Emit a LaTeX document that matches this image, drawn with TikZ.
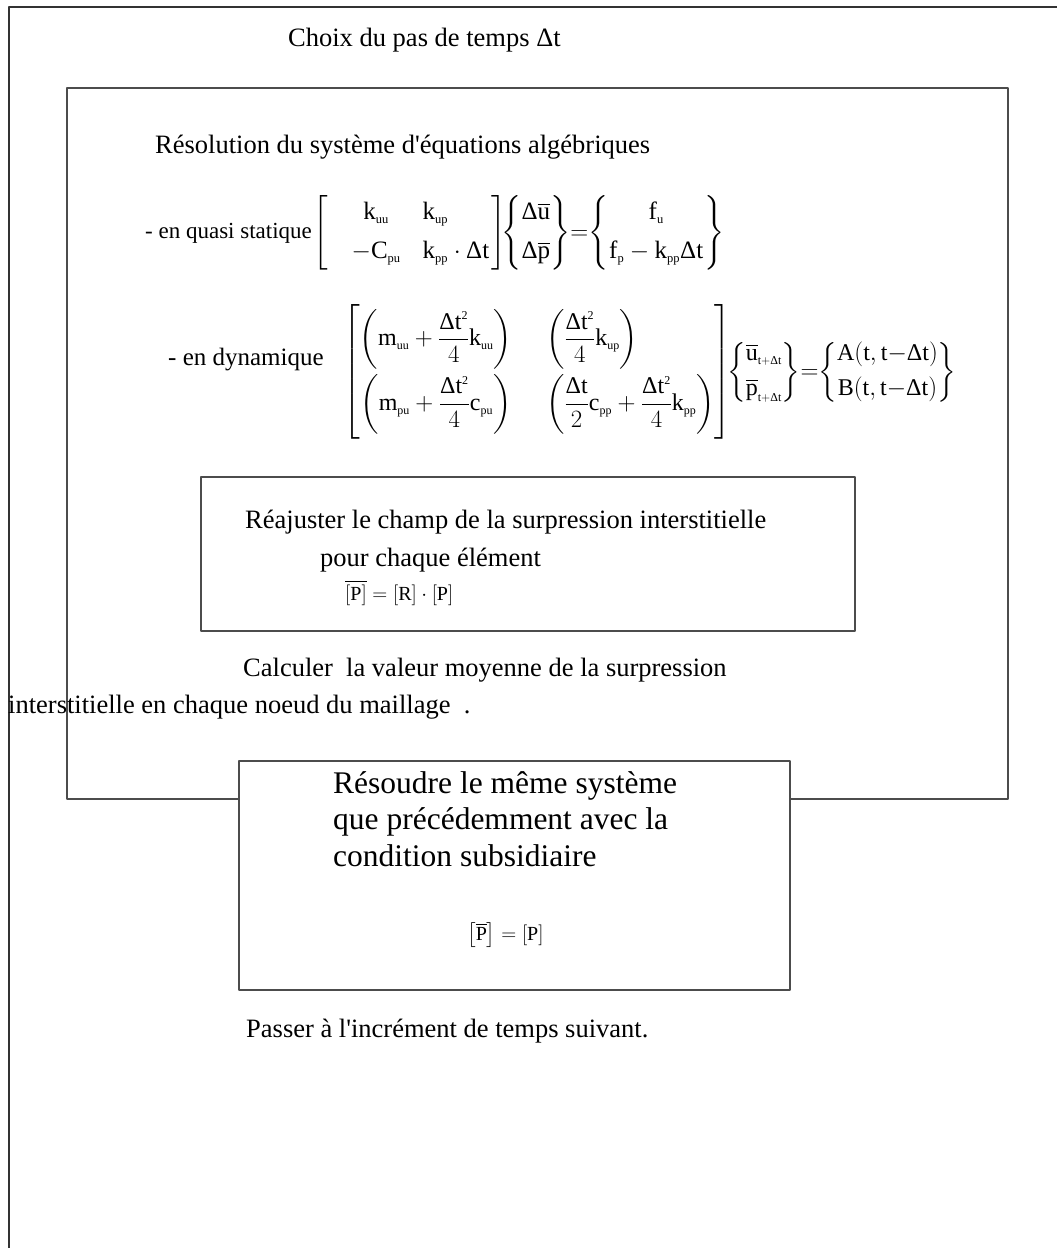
\documentclass[tikz,border=0pt]{standalone}
\usepackage{amsmath}
\usepackage{fontspec}
\setmainfont{Liberation Serif}
\newcommand\Dl{\text{Δ}}
\newcommand\sbs[1]{_{\scriptscriptstyle\mathrm{#1}}}
\newcommand\sps[1]{^{\scriptscriptstyle\mathrm{#1}}}
\tikzset{
  frameline/.style={draw=black!80, line width=1.3pt},
  boxline/.style={draw=black!70, line width=1.3pt, inner sep=0pt},
  txt/.style={anchor=base west, inner sep=0pt, font=\fontsize{26.5}{32}\selectfont},
  bigtxt/.style={anchor=base west, inner sep=0pt, font=\fontsize{31.5}{36.5}\selectfont},
  eqn/.style={inner sep=0pt, font=\fontsize{25}{30}\selectfont},
  smalleqn/.style={inner sep=0pt, font=\fontsize{20}{24}\selectfont},
}
\begin{document}
\begin{tikzpicture}[x=1pt,y=-1pt, line join=round]
\useasboundingbox (0,0) rectangle (1057,1248);
% cadre general
\coordinate (cornerTR) at (1057,7);
\coordinate (cornerTL) at (9,7);
\coordinate (cornerBL) at (9,1248);
\draw[frameline] (cornerTR) -- (cornerTL) -- (cornerBL);
\node[txt] (choix) at (288,46) {Choix du pas de temps Δt};
% boucle sur le pas de temps
\node[boxline, minimum width=941pt, minimum height=711pt] (boucle) at (537.5,443.5) {};
\node[txt] (resol) at (155,153) {Résolution du système d\textquotesingle équations algébriques};
% quasi statique
\node[eqn, anchor=base west, font=\fontsize{23}{28}\selectfont] (quasilbl) at (145,238) {- en quasi statique};
\node[eqn, anchor=west] (quasieq) at (313,233) {$\displaystyle
 \left[\begin{array}{@{\hspace{24pt}}c@{\hspace{22pt}}l@{\hspace{2pt}}}
 \mathrm{k}\sbs{uu} & \mathrm{k}\sbs{up}\\[9pt]
 -\mathrm{C}\sbs{pu} & \mathrm{k}\sbs{pp}\cdot\Dl\mathrm{t}
 \end{array}\right]\!\!
 \left\{\begin{array}{@{}c@{}}\Dl\overline{\mathrm{u}}\\[9pt] \Dl\overline{\mathrm{p}}\end{array}\right\}
 \!{=}\!\left\{\begin{array}{@{\hspace{1pt}}c@{\hspace{1pt}}}\mathrm{f}\sbs{u}\\[9pt] \mathrm{f}\sbs{p}-\mathrm{k}\sbs{pp}\Dl\mathrm{t}\end{array}\right\}$};
% dynamique
\node[eqn, anchor=base west] (dynlbl) at (168,365) {- en dynamique};
\node[eqn, anchor=west, font=\fontsize{24}{29}\selectfont] (dyneq) at (343,372) {$\displaystyle
 \left[\begin{array}{@{}c@{\hspace{34pt}}l@{}}
 \left(\mathrm{m}\sbs{uu}+\dfrac{\Dl\mathrm{t}\sps{2}}{4}\mathrm{k}\sbs{uu}\right) &
 \left(\dfrac{\Dl\mathrm{t}\sps{2}}{4}\mathrm{k}\sbs{up}\right)\\[20pt]
 \left(\mathrm{m}\sbs{pu}+\dfrac{\Dl\mathrm{t}\sps{2}}{4}\mathrm{c}\sbs{pu}\right) &
 \left(\dfrac{\Dl\mathrm{t}}{2}\mathrm{c}\sbs{pp}+\dfrac{\Dl\mathrm{t}\sps{2}}{4}\mathrm{k}\sbs{pp}\right)
 \end{array}\right]\!\!
 \left\{\begin{array}{@{}l@{}}\overline{\mathrm{u}}\sbs{t+\Dl t}\\[6pt] \overline{\mathrm{p}}\sbs{t+\Dl t}\end{array}\right\}
 \!{=}\!\left\{\begin{array}{@{}c@{}}\mathrm{A}(\mathrm{t},\mathrm{t}{-}\Dl\mathrm{t})\\[6pt] \mathrm{B}(\mathrm{t},\mathrm{t}{-}\Dl\mathrm{t})\end{array}\right\}$};
% reajustement
\node[boxline, minimum width=654pt, minimum height=154pt] (reaj) at (528,554) {};
\node[txt] (reajA) at (245,528) {Réajuster le champ de la surpression interstitielle};
\node[txt] (reajB) at (320,566) {pour chaque élément};
\node[smalleqn, anchor=base west] (reajC) at (345,600) {$\overline{[\mathrm{P}]}=[\mathrm{R}]\cdot[\mathrm{P}]$};
% moyenne aux noeuds
\node[txt] (moyA) at (243,676) {Calculer\ \ la valeur moyenne de la surpression};
\node[txt] (moyB) at (8,713) {interstitielle en chaque noeud du maillage\ \ .};
% condition subsidiaire
\node[boxline, fill=white, minimum width=551pt, minimum height=229pt] (subsid) at (514.5,875.5) {};
\node[bigtxt] (subsidA) at (333,793) {Résoudre le même système};
\node[bigtxt] (subsidB) at (333,829) {que précédemment avec la};
\node[bigtxt] (subsidC) at (333,866) {condition subsidiaire};
\node[smalleqn, anchor=base west] (subsidD) at (467,940) {$\left[\overline{\mathrm{P}}\right]=[\mathrm{P}]$};
\node[txt] (passer) at (246,1037) {Passer à l\textquotesingle incrément de temps suivant.};
\end{tikzpicture}
\end{document}
